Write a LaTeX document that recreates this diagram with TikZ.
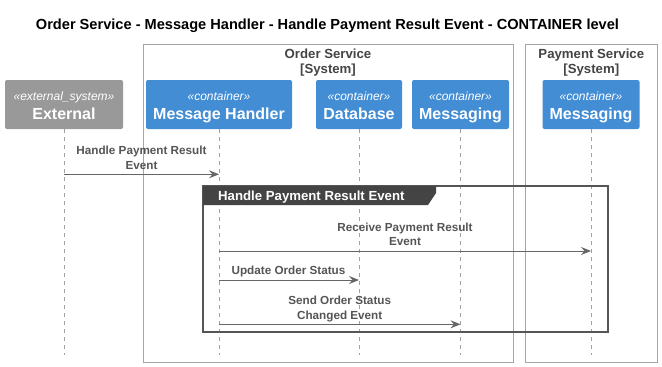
\documentclass[tikz,border=0pt]{standalone}
\usepackage{fontspec}
\setmainfont{Liberation Sans}
\usetikzlibrary{arrows.meta}

\definecolor{c4blue}{HTML}{438DD5}
\definecolor{extgray}{HTML}{999999}
\definecolor{boundline}{HTML}{A6A6A6}
\definecolor{boundtext}{HTML}{444444}
\definecolor{lifegray}{HTML}{A0A0A0}
\definecolor{msggray}{HTML}{666666}
\definecolor{msgtext}{HTML}{555555}
\definecolor{groupline}{HTML}{555555}
\definecolor{tabfill}{HTML}{444444}

\tikzset{
  participant/.style={draw=none, rounded corners=2pt, minimum height=49pt, inner sep=0pt},
  stereo/.style={anchor=base, text=white, inner sep=0pt, font=\fontsize{12}{14}\selectfont\itshape},
  pname/.style={anchor=base, text=white, inner sep=0pt, font=\fontsize{16}{18}\selectfont\bfseries},
  boundary/.style={draw=boundline, line width=0.9pt},
  boundlabel/.style={anchor=base, text=boundtext, inner sep=0pt, align=center,
    font=\fontsize{13.2}{15}\selectfont\bfseries},
  lifeline/.style={draw=lifegray, line width=0.8pt, dash pattern=on 4pt off 4pt},
  msg/.style={draw=msggray, line width=1pt,
    -{Stealth[length=10pt, width=8pt, inset=3.5pt, fill=msggray]}},
  msglabel/.style={anchor=base, text=msgtext, inner sep=0pt, align=center,
    font=\fontsize{11.7}{14.6}\selectfont\bfseries},
  groupframe/.style={draw=groupline, line width=1.5pt},
  grouptab/.style={fill=tabfill},
  grouplabel/.style={anchor=base west, text=white, inner sep=0pt,
    font=\fontsize{13.2}{15}\selectfont\bfseries},
}

\begin{document}
\begin{tikzpicture}[x=1pt, y=-1pt]
\useasboundingbox (0,0) rectangle (662,367);
\fill[white] (0,0) rectangle (662,367);

% title
\node[anchor=base, inner sep=0pt, font=\fontsize{14.6}{17}\selectfont\bfseries]
  (title) at (327.5,29.3) {Order Service - Message Handler - Handle Payment Result Event - CONTAINER level};

% system boundaries
\draw[boundary] (143,44) rectangle (513,362);
\node[boundlabel] (osname) at (328,58) {Order Service};
\node[boundlabel] (ossys) at (328,73) {[System]};
\draw[boundary] (525.5,44) rectangle (657,362);
\node[boundlabel] (psname) at (591.3,58) {Payment Service};
\node[boundlabel] (pssys) at (591.3,73) {[System]};

% participants
\node[participant, fill=extgray, minimum width=118pt] (ext) at (64,104.5) {};
\node[stereo] (ext-st) at (64,100) {«external\_system»};
\node[pname] (ext-nm) at (64,119) {External};

\node[participant, fill=c4blue, minimum width=146pt] (mh) at (219,104.5) {};
\node[stereo] (mh-st) at (219,100) {«container»};
\node[pname] (mh-nm) at (219,119) {Message Handler};

\node[participant, fill=c4blue, minimum width=86pt] (db) at (359,104.5) {};
\node[stereo] (db-st) at (359,100) {«container»};
\node[pname] (db-nm) at (359,119) {Database};

\node[participant, fill=c4blue, minimum width=97pt] (om) at (460.5,104.5) {};
\node[stereo] (om-st) at (460.5,100) {«container»};
\node[pname] (om-nm) at (460.5,119) {Messaging};

\node[participant, fill=c4blue, minimum width=97pt] (pm) at (591,104.5) {};
\node[stereo] (pm-st) at (591,100) {«container»};
\node[pname] (pm-nm) at (591,119) {Messaging};

% lifelines
\foreach \p in {ext,mh,db,om,pm}{
  \coordinate (\p-end) at ([yshift=-226pt]\p.south);
  \draw[lifeline] (\p.south) -- (\p-end);
}

% group frame with its header tab
\draw[groupframe] (203,186) rectangle (608,332);
\fill[grouptab] (203,186) -- (436,186) -- (436,193) -- (428,205) -- (203,205) -- cycle;
\node[grouplabel] (grp) at (218,200) {Handle Payment Result Event};

% messages (label anchors sit on the baseline of the last text line)
\draw[msg] (ext.south |- 0,174.3) -- (mh.south |- 0,174.3);
\node[msglabel] (m1) at (141.5,169.5) {Handle Payment Result\\Event};

\draw[msg] (mh.south |- 0,251) -- (pm.south |- 0,251);
\node[msglabel] (m2) at (405,245.7) {Receive Payment Result\\Event};

\draw[msg] (mh.south |- 0,280) -- (db.south |- 0,280);
\node[msglabel] (m3) at (288.5,274.3) {Update Order Status};

\draw[msg] (mh.south |- 0,324.3) -- (om.south |- 0,324.3);
\node[msglabel] (m4) at (339.7,319.3) {Send Order Status\\Changed Event};
\end{tikzpicture}
\end{document}
